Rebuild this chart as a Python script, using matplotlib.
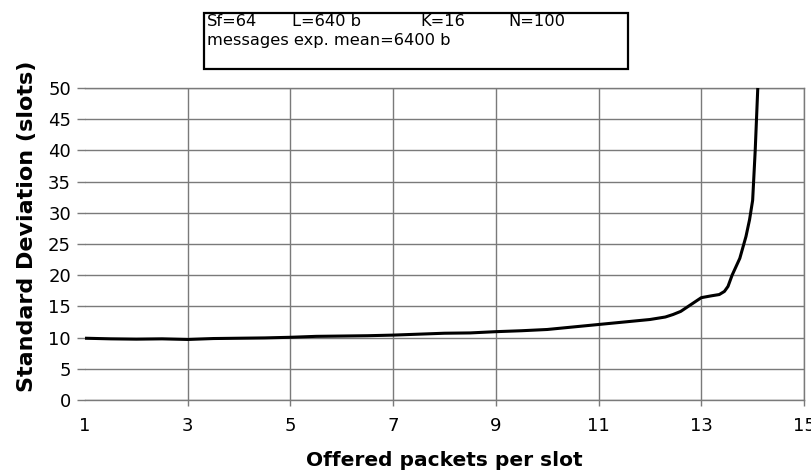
import matplotlib.pyplot as plt
from matplotlib.patches import Rectangle

plt.rcParams["font.family"] = ["DejaVu Sans"]

# offered load (packets per slot) vs. delay standard deviation (slots)
offered_load = [1, 1.5, 2, 2.5, 3, 3.5, 4, 4.5, 5, 5.5, 6, 6.5, 7, 7.5, 8, 8.5,
                9, 9.5, 10, 10.5, 11, 11.5, 12, 12.3, 12.45, 12.6, 12.8, 13.0,
                13.2, 13.35, 13.45, 13.52, 13.6, 13.75, 13.87, 13.94, 14.0,
                14.05, 14.1]
std_dev = [9.9, 9.8, 9.75, 9.8, 9.7, 9.85, 9.9, 9.95, 10.05, 10.2, 10.25, 10.3,
           10.4, 10.55, 10.7, 10.75, 10.95, 11.1, 11.3, 11.7, 12.1, 12.5, 12.9,
           13.3, 13.7, 14.2, 15.3, 16.4, 16.7, 16.9, 17.4, 18.2, 20.0, 22.7,
           26.2, 28.9, 32.0, 40.0, 50.0]

x_ticks = list(range(1, 16, 2))
y_ticks = list(range(0, 51, 5))

params_line1 = ["Sf=64", "L=640 b", "K=16", "N=100"]
params_line2 = "messages exp. mean=6400 b"

W, H = 812, 471
fig = plt.figure(figsize=(W / 100, H / 100), dpi=100)
ax = fig.add_axes([85 / W, 1 - 400 / H, (804 - 85) / W, (400 - 88) / H])

grid_color = "#7a7a7a"
ax.set_xlim(1, 15)
ax.set_ylim(0, 50)
ax.set_xticks(x_ticks)
ax.set_yticks(y_ticks)
ax.grid(True, color=grid_color, linewidth=1.0)
ax.spines["left"].set_visible(False)
for name in ("bottom", "top", "right"):
    ax.spines[name].set_color(grid_color)
    ax.spines[name].set_linewidth(1.0)
ax.tick_params(axis="x", length=4.5, color=grid_color, width=1.0, pad=8,
               labelsize=13)
ax.tick_params(axis="y", length=6, color=grid_color, width=1.0, pad=4,
               labelsize=13)
# no grid line or tick at the first x position
ax.xaxis.get_gridlines()[0].set_visible(False)
ax.xaxis.get_major_ticks()[0].tick1line.set_visible(False)

ax.plot(offered_load, std_dev, color="black", linewidth=2.2, clip_on=False,
        solid_capstyle="butt", solid_joinstyle="round", zorder=3)

ax.set_xlabel("Offered packets per slot", fontsize=14.5, fontweight="bold",
              labelpad=11)
ax.set_ylabel("Standard Deviation (slots)", fontsize=16, fontweight="bold")
ax.yaxis.set_label_coords(-0.0668, 0.558)

# parameter box above the plot
fig.patches.append(Rectangle((204 / W, 1 - 69 / H), (628 - 204) / W, (69 - 13) / H,
                             transform=fig.transFigure, fill=False,
                             edgecolor="black", linewidth=1.6))
for label, px in zip(params_line1, [207, 292, 420, 508]):
    fig.text(px / W, 1 - 26 / H, label, fontsize=11.7, va="baseline", ha="left")
fig.text(207 / W, 1 - 45 / H, params_line2, fontsize=11.7, va="baseline", ha="left")

fig.savefig("out.png", dpi=100)
